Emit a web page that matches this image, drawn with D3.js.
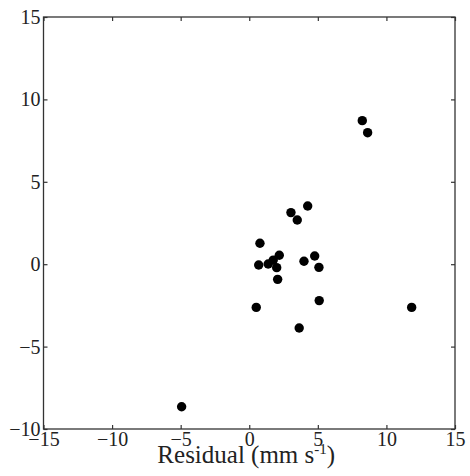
<!DOCTYPE html>
<html>
<head>
<meta charset="utf-8">
<script src="https://cdn.jsdelivr.net/npm/d3@7"></script>
<style>
  html, body { margin: 0; padding: 0; background: #fff; }
  svg { display: block; }
</style>
</head>
<body>
<svg id="chart" width="470" height="476"></svg>
<script>
// Data
const residualX = [4.26, 3.04, 3.50, 0.78, 0.69, 1.38, 1.75, 2.19, 2.00, 2.07, 3.99, 4.77, 5.08, 5.10, 0.51, 3.64, -4.93, 8.24, 8.63, 11.84];
const residualY = [3.53, 3.13, 2.68, 1.27, -0.05, 0.01, 0.25, 0.54, -0.21, -0.92, 0.18, 0.50, -0.19, -2.21, -2.62, -3.87, -8.65, 8.71, 7.98, -2.62];
const xTicks = [-15, -10, -5, 0, 5, 10, 15];
const yTicks = [-10, -5, 0, 5, 10, 15];
const xDomain = [-15, 15];
const yDomain = [-10, 15];
const xLabel = "Residual (mm s";
const xLabelSup = "-1";

const points = residualX.map((x, i) => ({ x, y: residualY[i] }));

const serif = '"Liberation Serif", "Times New Roman", serif';
const svg = d3.select("#chart");
const pLeft = 43.5, pRight = 455, pTop = 17, pBottom = 429;

const x = d3.scaleLinear().domain(xDomain).range([pLeft, pRight]);
const y = d3.scaleLinear().domain(yDomain).range([pBottom, pTop]);

const axisColor = "#333";
const fontSize = 20;

const gx = svg.append("g").attr("transform", `translate(0,${pBottom})`)
  .call(d3.axisBottom(x).tickValues(xTicks).tickSizeInner(-4).tickSizeOuter(0).tickPadding(3));
const gxt = svg.append("g").attr("transform", `translate(0,${pTop})`)
  .call(d3.axisTop(x).tickValues(xTicks).tickSizeInner(-4).tickSizeOuter(0).tickFormat(""));
const gy = svg.append("g").attr("transform", `translate(${pLeft},0)`)
  .call(d3.axisLeft(y).tickValues(yTicks).tickSizeInner(-4).tickSizeOuter(0).tickPadding(3));
const gyr = svg.append("g").attr("transform", `translate(${pRight},0)`)
  .call(d3.axisRight(y).tickValues(yTicks).tickSizeInner(-4).tickSizeOuter(0).tickFormat(""));

[gx, gxt, gy, gyr].forEach(g => {
  g.attr("font-family", serif).attr("font-size", fontSize);
  g.select(".domain").remove();
  g.selectAll(".tick line").attr("stroke", axisColor).attr("stroke-width", 1.2);
  g.selectAll(".tick text").attr("fill", "#222");
});

svg.append("rect")
  .attr("x", pLeft).attr("y", pTop)
  .attr("width", pRight - pLeft).attr("height", pBottom - pTop)
  .attr("fill", "none").attr("stroke", axisColor).attr("stroke-width", 1.3);

svg.append("g").selectAll("circle").data(points).join("circle")
  .attr("cx", d => x(d.x))
  .attr("cy", d => y(d.y))
  .attr("r", 4.7)
  .attr("fill", "#000");

const lbl = svg.append("text")
  .attr("x", (pLeft + pRight) / 2 - 3)
  .attr("y", 463)
  .attr("text-anchor", "middle")
  .attr("fill", "#222")
  .attr("font-family", serif)
  .attr("font-size", 25);
lbl.append("tspan").text(xLabel);
lbl.append("tspan").attr("dy", -9).attr("font-size", 15).text(xLabelSup);
lbl.append("tspan").attr("dy", 9).text(")");
</script>
</body>
</html>
